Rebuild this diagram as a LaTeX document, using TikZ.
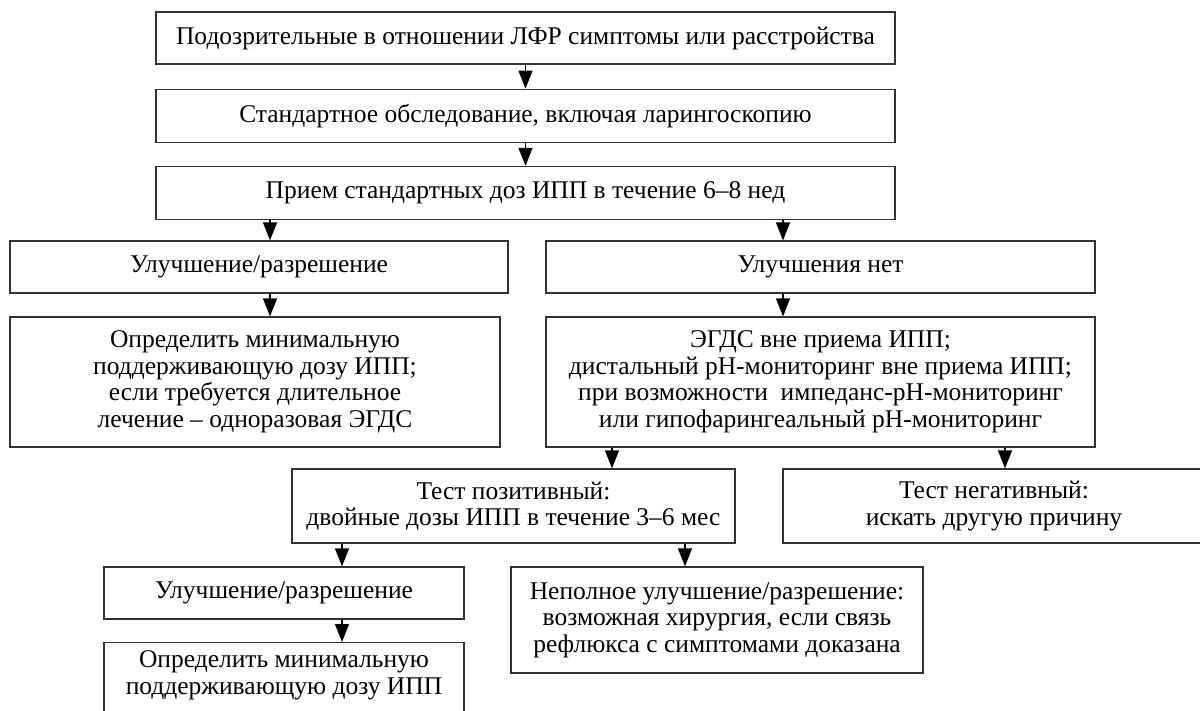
\documentclass[tikz,border=0pt]{standalone}
\usepackage{fontspec}
\setmainfont{Liberation Serif}
\usetikzlibrary{arrows.meta,positioning}

\begin{document}
\begin{tikzpicture}[
  x=1pt, y=-1pt,
  block/.style={rectangle, draw=black!80, line width=1.2pt, align=center, inner sep=0pt, font=\fontsize{25.5}{26.5}\selectfont},
  >={Triangle[length=18pt,width=14pt]},
  line width=1.2pt
]
\useasboundingbox (0,0) rectangle (1200,710);
\clip (0,0) rectangle (1200,710);

\node[block, minimum width=739pt, minimum height=52pt] (symp) at (525.5,38) {Подозрительные в отношении ЛФР симптомы или расстройства};
\node[block, minimum width=739pt, minimum height=53pt, below=24pt of symp] (exam) {Стандартное обследование, включая ларингоскопию};
\node[block, minimum width=739pt, minimum height=53pt, below=23pt of exam] (ipp) {Прием стандартных доз ИПП в течение 6–8 нед};

\node[block, minimum width=498pt, minimum height=52pt] (imp1) at (259,267) {Улучшение/разрешение};
\node[block, minimum width=490pt, minimum height=130pt] (dose1) at (255,382) {Определить минимальную\\поддерживающую дозу ИПП;\\если требуется длительное\\лечение – одноразовая ЭГДС};
\node[block, minimum width=549pt, minimum height=52pt] (noimp) at (820.5,267) {Улучшения нет};
\node[block, minimum width=549pt, minimum height=130pt] (egds) at (820.5,382) {ЭГДС вне приема ИПП;\\дистальный pH-мониторинг вне приема ИПП;\\при возможности\ \ импеданс-pH-мониторинг\\или гипофарингеальный pH-мониторинг};

\node[block, minimum width=443pt, minimum height=74pt] (pos) at (513.5,506) {Тест позитивный:\\двойные дозы ИПП в течение 3–6 мес};
\node[block, minimum width=422pt, minimum height=74pt] (neg) at (994,506) {Тест негативный:\\искать другую причину};

\node[block, minimum width=360pt, minimum height=52pt] (imp2) at (284,593) {Улучшение/разрешение};
% box runs past the lower edge of the page
\node[block, minimum width=360pt, minimum height=94pt, anchor=north] (dose2) at (284,642) {Определить минимальную\\поддерживающую дозу ИПП\\\strut};
\node[block, minimum width=412pt, minimum height=106pt] (part) at (717,620) {Неполное улучшение/разрешение:\\возможная хирургия, если связь\\рефлюкса с симптомами доказана};

\draw[->] (symp) -- (exam);
\draw[->] (exam) -- (ipp);
\draw[->] ([xshift=11pt]imp1.north |- ipp.south) -- ([xshift=11pt]imp1.north);
\draw[->] ([xshift=-37.5pt]noimp.north |- ipp.south) -- ([xshift=-37.5pt]noimp.north);
\draw[->] ([xshift=11pt]imp1.south) -- ([xshift=11pt]imp1.south |- dose1.north);
\draw[->] ([xshift=-37.5pt]noimp.south) -- ([xshift=-37.5pt]noimp.south |- egds.north);
\draw[->] ([xshift=98.5pt]pos.north |- egds.south) -- ([xshift=98.5pt]pos.north);
\draw[->] ([xshift=11pt]neg.north |- egds.south) -- ([xshift=11pt]neg.north);
\draw[->] ([xshift=58pt]imp2.north |- pos.south) -- ([xshift=58pt]imp2.north);
\draw[->] ([xshift=-32pt]part.north |- pos.south) -- ([xshift=-32pt]part.north);
\draw[->] ([xshift=58pt]imp2.south) -- ([xshift=58pt]imp2.south |- dose2.north);
\end{tikzpicture}
\end{document}
